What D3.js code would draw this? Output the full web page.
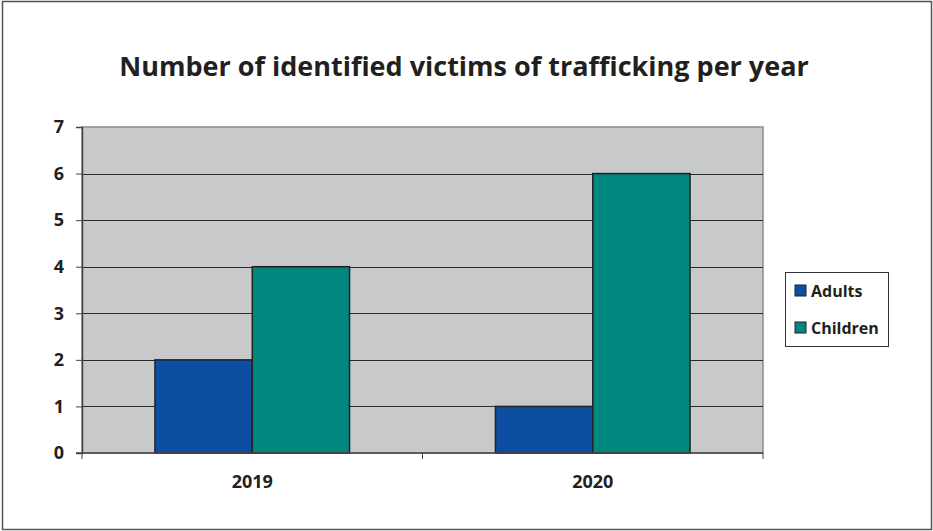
<!DOCTYPE html>
<html>
<head>
<meta charset="utf-8">
<script src="https://cdn.jsdelivr.net/npm/d3@7"></script>
<style>
  body { margin: 0; background: #fff; }
  text { font-family: "Open Sans", "Noto Sans", sans-serif; font-weight: bold; fill: #231f20; }
</style>
</head>
<body>
<svg id="chart"></svg>
<script>
var years = ["2019", "2020"];
var seriesNames = ["Adults", "Children"];
var adults = [2, 1];
var children = [4, 6];
var yTicks = [0, 1, 2, 3, 4, 5, 6, 7];
var colors = ["#0b4ea2", "#00877f"];

var width = 933, height = 531;
var margin = { left: 82, right: 170, top: 127, bottom: 78 };

var svg = d3.select("#chart").attr("width", width).attr("height", height);

// outer frame
svg.append("rect")
	.attr("x", 2.5).attr("y", 1.5)
	.attr("width", width - 4).attr("height", height - 3)
	.attr("fill", "white").attr("stroke", "#555").attr("stroke-width", 1.5);

var x = d3.scaleBand().domain(years).range([margin.left, width - margin.right]);
var y = d3.scaleLinear().domain([0, 7]).range([height - margin.bottom, margin.top]);
var x1 = d3.scaleBand().domain(seriesNames)
	.range([0, x.bandwidth()]).paddingOuter(0.75).paddingInner(0);

var plotW = x.range()[1] - x.range()[0];

// plot area
svg.append("rect")
	.attr("x", margin.left).attr("y", y(7))
	.attr("width", plotW).attr("height", y(0) - y(7))
	.attr("fill", "#c8c9cb").attr("stroke", "#8c8c8c").attr("stroke-width", 1.5);

// gridlines
svg.append("g").selectAll("line")
	.data(yTicks.filter(function (d) { return d > 0 && d < 7; }))
	.enter().append("line")
	.attr("x1", margin.left).attr("x2", margin.left + plotW)
	.attr("y1", function (d) { return Math.round(y(d)) + 0.5; })
	.attr("y2", function (d) { return Math.round(y(d)) + 0.5; })
	.attr("stroke", "#2a2a2a").attr("stroke-width", 1);

// bars
var rows = years.map(function (yr, i) {
	return { year: yr, values: [adults[i], children[i]] };
});

svg.append("g").selectAll("g")
	.data(rows)
	.enter().append("g")
	.attr("transform", function (d) { return "translate(" + x(d.year) + ",0)"; })
	.selectAll("rect")
	.data(function (d) { return d.values.map(function (v, j) { return { name: seriesNames[j], value: v, j: j }; }); })
	.enter().append("rect")
	.attr("x", function (d) { return x1(d.name); })
	.attr("width", x1.bandwidth())
	.attr("y", function (d) { return y(d.value); })
	.attr("height", function (d) { return y(0) - y(d.value); })
	.attr("fill", function (d) { return colors[d.j]; })
	.attr("stroke", "#222").attr("stroke-width", 1.5);

// y axis
var yAxis = svg.append("g")
	.attr("transform", "translate(" + margin.left + ",0)")
	.call(d3.axisLeft(y).tickValues(yTicks).tickSize(6).tickPadding(12).tickFormat(d3.format("d")));
yAxis.select(".domain").attr("stroke", "#444").attr("stroke-width", 1.5);
yAxis.selectAll(".tick line").attr("stroke", "#444");
yAxis.selectAll("text").style("font-size", "18px").style("fill", "#231f20");

// x axis
var xAxis = svg.append("g")
	.attr("transform", "translate(0," + (height - margin.bottom) + ")");
xAxis.append("line")
	.attr("x1", margin.left - 6).attr("x2", margin.left + plotW)
	.attr("stroke", "#444").attr("stroke-width", 1.5);
xAxis.selectAll("line.tk")
	.data([margin.left, margin.left + plotW / 2, margin.left + plotW])
	.enter().append("line").attr("class", "tk")
	.attr("x1", function (d) { return d; }).attr("x2", function (d) { return d; })
	.attr("y1", 0).attr("y2", 6)
	.attr("stroke", "#444");
xAxis.selectAll("text")
	.data(years)
	.enter().append("text")
	.attr("x", function (d) { return x(d) + x.bandwidth() / 2; })
	.attr("y", 35)
	.attr("text-anchor", "middle")
	.style("font-size", "18px")
	.text(function (d) { return d; });

// title
svg.append("text")
	.attr("x", 464).attr("y", 76)
	.attr("text-anchor", "middle")
	.style("font-size", "27px")
	.text("Number of identified victims of trafficking per year");

// legend
var legend = svg.append("g").attr("transform", "translate(785,272)");
legend.append("rect")
	.attr("x", 0.5).attr("y", 0.5).attr("width", 103).attr("height", 74)
	.attr("fill", "white").attr("stroke", "#333").attr("stroke-width", 1);
var li = legend.selectAll("g.item")
	.data(seriesNames)
	.enter().append("g").attr("class", "item")
	.attr("transform", function (d, i) { return "translate(10," + (13 + i * 37) + ")"; });
li.append("rect")
	.attr("width", 11).attr("height", 11)
	.attr("fill", function (d, i) { return colors[i]; })
	.attr("stroke", "#222").attr("stroke-width", 1);
li.append("text")
	.attr("x", 16).attr("y", 11.5)
	.style("font-size", "16px")
	.text(function (d) { return d; });
</script>
</body>
</html>
